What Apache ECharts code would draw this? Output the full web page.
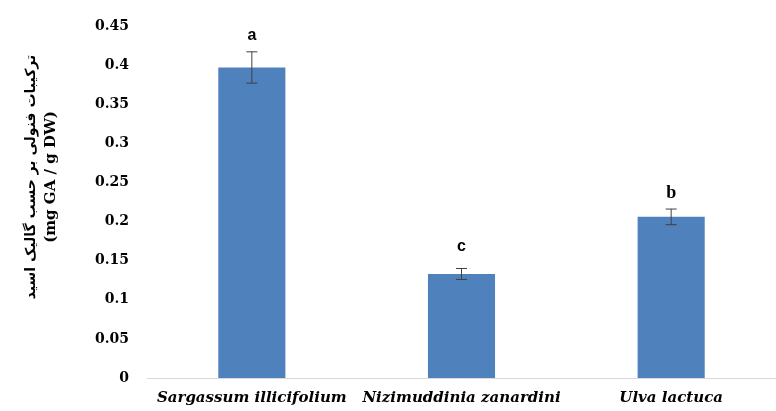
<!DOCTYPE html>
<html><head><meta charset="utf-8">
<script src="https://cdn.jsdelivr.net/npm/echarts@6/dist/echarts.min.js"></script>
<style>html,body{margin:0;padding:0;background:#fff}#c{width:776px;height:411px}</style>
</head><body><div id="c"></div>
<script>
const categories = ['Sargassum illicifolium', 'Nizimuddinia zanardini', 'Ulva lactuca'];
const values = [0.397, 0.133, 0.206];
const errors = [0.020, 0.007, 0.010];
const letters = ['a', 'c', 'b'];
const yTicks = { min: 0, max: 0.45, interval: 0.05 };
const yName1 = 'ترکیبات فنولی بر حسب گالیک اسید';
const yName2 = '(mg GA / g DW)';

const letterGaps = { a: 8, c: 14, b: 7 };
const chart = echarts.init(document.getElementById('c'));
const errData = values.map((v, i) => [i, v - errors[i], v + errors[i]]);
chart.setOption({
  animation: false,
  grid: { left: 147, right: -12, top: 26, bottom: 33 },
  xAxis: {
    type: 'category', data: categories,
    axisTick: { show: false },
    axisLine: { lineStyle: { color: '#d9d9d9', width: 1 } },
    axisLabel: {
      margin: 13, interval: 0,
      fontFamily: 'DejaVu Serif', fontStyle: 'italic', fontWeight: 'bold', fontSize: 15, color: '#000'
    }
  },
  yAxis: {
    type: 'value', min: yTicks.min, max: yTicks.max, interval: yTicks.interval,
    axisLine: { show: false }, axisTick: { show: false }, splitLine: { show: false },
    axisLabel: { margin: 18, fontFamily: 'DejaVu Serif', fontWeight: 'bold', fontSize: 14, color: '#000' },
    name: '{p|' + yName1 + '}\n{e|' + yName2 + '}',
    nameLocation: 'middle', nameRotate: 90, nameGap: 86,
    nameTextStyle: {
      padding: [0, 0, 0, 50],
      rich: {
        p: { fontFamily: 'DejaVu Sans', fontWeight: 'bold', fontSize: 14, color: '#000', lineHeight: 20 },
        e: { fontFamily: 'DejaVu Serif', fontWeight: 'bold', fontSize: 15, color: '#000', lineHeight: 20 }
      }
    }
  },
  series: [
    {
      type: 'bar', data: values, barWidth: '32%',
      itemStyle: { color: '#4f81bd' }
    },
    {
      type: 'custom', data: errData, z: 10,
      renderItem: function (params, api) {
        const x = api.value(0);
        const lo = api.coord([x, api.value(1)]);
        const hi = api.coord([x, api.value(2)]);
        const cw = 5.5;
        const st = { stroke: '#404040', lineWidth: 1 };
        const lt = letters[params.dataIndex];
        const serif = lt === 'b';
        return {
          type: 'group',
          children: [
            { type: 'line', shape: { x1: hi[0], y1: hi[1], x2: lo[0], y2: lo[1] }, style: st },
            { type: 'line', shape: { x1: hi[0] - cw, y1: hi[1], x2: hi[0] + cw, y2: hi[1] }, style: st },
            { type: 'line', shape: { x1: lo[0] - cw, y1: lo[1], x2: lo[0] + cw, y2: lo[1] }, style: st },
            { type: 'text', x: hi[0], y: hi[1] - letterGaps[lt], style: {
                text: lt, textAlign: 'center', textVerticalAlign: 'bottom',
                fontFamily: serif ? 'Liberation Serif' : 'Liberation Sans',
                fontWeight: 'bold', fontSize: serif ? 18 : 16, fill: '#000' } }
          ]
        };
      }
    }
  ]
});
</script>
</body></html>
